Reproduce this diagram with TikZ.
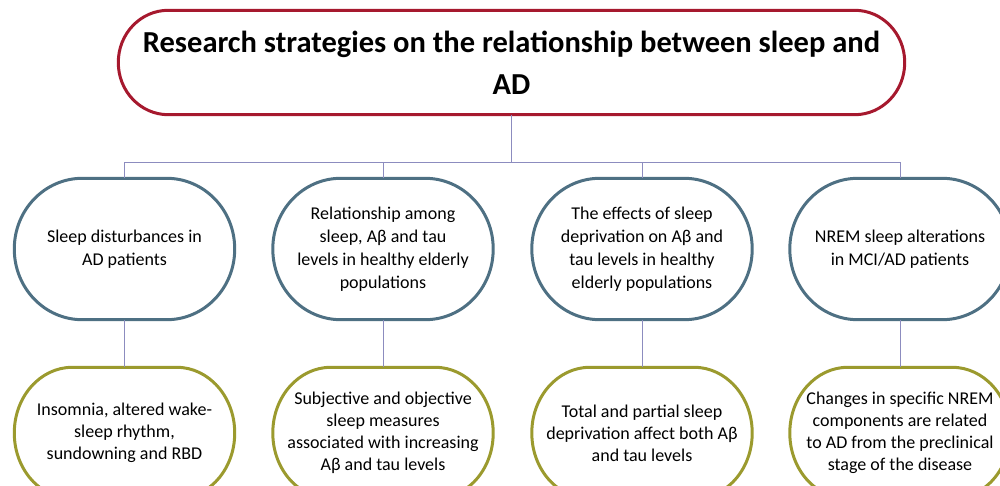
\documentclass[tikz,border=0pt]{standalone}
\usepackage{fontspec}
\usetikzlibrary{calc}
\setmainfont{Carlito}
\definecolor{titlered}{HTML}{A6192E}
\definecolor{topicblue}{HTML}{4E7083}
\definecolor{findolive}{HTML}{9B9A2E}
\definecolor{linkblue}{HTML}{8C8CBF}
% outline with elliptical ends around node #1: style #2, corner radii #3 (x) and #4 (y)
\newcommand\drawcapsule[4]{%
  \draw[#2] ($(#1.north west)+(#3,0)$) -- ($(#1.north east)+(-#3,0)$)
    arc[start angle=90, end angle=0, x radius=#3pt, y radius=#4pt]
    -- ($(#1.south east)+(0,-#4)$)
    arc[start angle=0, end angle=-90, x radius=#3pt, y radius=#4pt]
    -- ($(#1.south west)+(#3,0)$)
    arc[start angle=-90, end angle=-180, x radius=#3pt, y radius=#4pt]
    -- ($(#1.north west)+(0,#4)$)
    arc[start angle=180, end angle=90, x radius=#3pt, y radius=#4pt]
    -- cycle;}
\begin{document}
\begin{tikzpicture}[x=1pt,y=-1pt,
  titlebox/.style={minimum width=786pt, minimum height=104pt, inner sep=0pt,
    align=center, font=\bfseries\fontsize{30.5}{42}\selectfont},
  topic/.style={minimum width=220pt, minimum height=141pt, inner sep=0pt,
    align=center, font=\fontsize{18}{23}\selectfont},
  finding/.style={minimum width=220pt, minimum height=131pt, inner sep=0pt,
    align=center, font=\fontsize{18}{22}\selectfont},
  titleline/.style={draw=titlered, line width=3pt},
  topicline/.style={draw=topicblue, line width=3pt},
  findline/.style={draw=findolive, line width=3pt},
  conn/.style={draw=linkblue, line width=1pt}]
\useasboundingbox (0,0) rectangle (1000,486);
\clip (0,0) rectangle (1000,486);

% heading
\node[titlebox] (top) at (511.5,62.5) {Research strategies on the relationship between sleep and\\AD};
\drawcapsule{top}{titleline}{50}{52}

% research strategies
\node[topic] (b1) at (124.5,249) {Sleep disturbances in\\AD patients};
\node[topic] (b2) at (383,249) {Relationship among\\sleep, Aβ and tau\\levels in healthy elderly\\populations};
\node[topic] (b3) at (642,249) {The effects of sleep\\deprivation on Aβ and\\tau levels in healthy\\elderly populations};
\node[topic] (b4) at (900,249) {NREM sleep alterations\\in MCI/AD patients};

% main findings
\node[finding] (c1) at (124.5,433) {Insomnia, altered wake-\\sleep rhythm,\\sundowning and RBD};
\node[finding] (c2) at (383,433) {Subjective and objective\\sleep measures\\associated with increasing\\Aβ and tau levels};
\node[finding] (c3) at (642,433) {Total and partial sleep\\deprivation affect both Aβ\\and tau levels};
\node[finding] (c4) at (900,433) {Changes in specific NREM\\components are related\\to AD from the preclinical\\stage of the disease};

\foreach \i in {1,2,3,4} {
  \drawcapsule{b\i}{topicline}{68}{70.5}
  \drawcapsule{c\i}{findline}{58}{65.5}
}

% tree connectors
\coordinate (bus) at (512,163);
\draw[conn] (top.south) -- (top.south |- bus);
\draw[conn] (b1.north) -- (b1.north |- bus) -- (b4.north |- bus) -- (b4.north);
\draw[conn] (b2.north) -- (b2.north |- bus);
\draw[conn] (b3.north) -- (b3.north |- bus);
\foreach \i in {1,2,3,4}
  \draw[conn] (b\i.south) -- (c\i.north);
\end{tikzpicture}
\end{document}
